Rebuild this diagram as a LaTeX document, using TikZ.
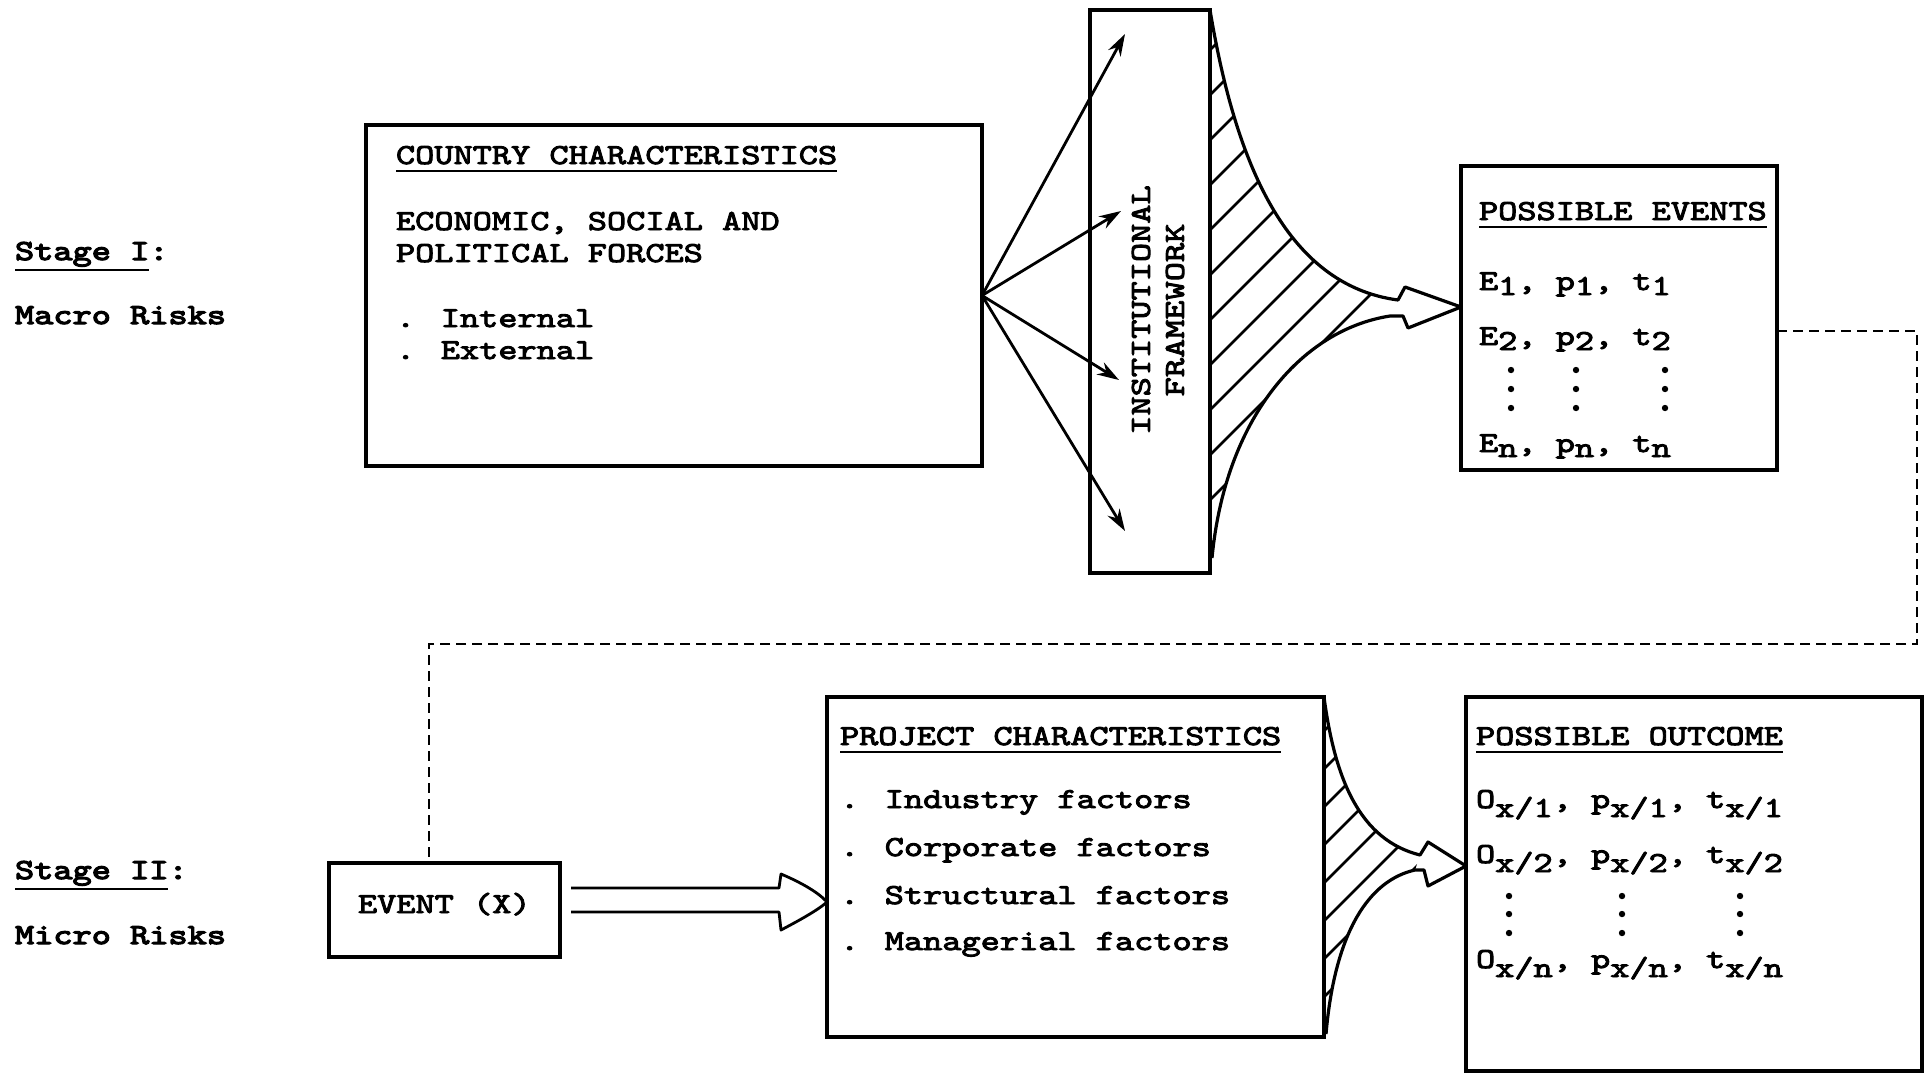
\documentclass[tikz,border=0pt]{standalone}
\usepackage{fontspec}
\newfontfamily\tw{lmmono10-regular.otf}[FakeStretch=1.26, FakeBold=3.2]
\newfontfamily\twb{lmmono10-regular.otf}[FakeStretch=1.26, FakeBold=4.2]
\usetikzlibrary{arrows.meta,calc}
\newcommand\ulx[2][8pt]{\setbox0\hbox{#2}\rlap{\rule[-#1]{\wd0}{2.5pt}}\box0}
\newcommand\lo[1]{\raisebox{-5pt}{#1}}
\newcommand\lox[1]{\raisebox{-9pt}{#1}}
\begin{document}
\begin{tikzpicture}[x=1pt,y=-1pt,
  txt/.style={anchor=base west, inner sep=0pt, outer sep=0pt, font=\tw\fontsize{29}{34}\selectfont},
  lbl/.style={txt, font=\twb\fontsize{29}{34}\selectfont},
  box/.style={draw, line width=3.2pt, anchor=north west, inner sep=0pt, outer sep=0pt},
  fan/.style={line width=2.8pt, -{Stealth[length=22pt,width=14pt]}},
  funnel/.style={line width=3.2pt, line join=round},
  hatch/.style={line width=2.6pt},
  link/.style={line width=2.2pt, dash pattern=on 10pt off 6pt},
  dotm/.style={fill=black}]
\useasboundingbox (0,0) rectangle (1924,1077);

% ---------- left labels
\node[lbl] (s1)  at (15,260) {\ulx[11pt]{Stage I}:};
\node[lbl] (s1b) at (15,324) {Macro Risks};
\node[lbl] (s2)  at (15,879) {\ulx[11pt]{Stage II}:};
\node[lbl] (s2b) at (15,944) {Micro Risks};

% ---------- boxes
\node[box, minimum width=616pt, minimum height=341pt] (country) at (366,125) {};
\node[box, minimum width=120pt, minimum height=563pt] (inst) at (1090,10) {};
\node[box, minimum width=316pt, minimum height=304pt] (events) at (1461,166) {};
\node[box, minimum width=231pt, minimum height=94pt] (eventx) at (329,863) {};
\node[box, minimum width=497pt, minimum height=340pt] (project) at (827,697) {};
\node[box, minimum width=456pt, minimum height=374pt] (outcome) at (1466,697) {};

% ---------- country box text
\node[txt] (c0) at (396,164) {\ulx{COUNTRY CHARACTERISTICS}};
\node[txt] (c1) at (396,230) {ECONOMIC, SOCIAL AND};
\node[txt] (c2) at (396,262) {POLITICAL FORCES};
\node[txt] (c3) at (396,327) {. Internal};
\node[txt] (c4) at (396,359) {. External};

% ---------- institutional framework
\node[font=\tw\fontsize{29}{34}\selectfont, rotate=90, align=center, inner sep=0pt] (insttext) at (1158,310) {INSTITUTIONAL\\FRAMEWORK};

% ---------- fan of arrows
\coordinate (a1) at (1125,34);
\coordinate (a2) at (1121,211);
\coordinate (a3) at (1119,380);
\coordinate (a4) at (1125,531);
\foreach \t in {a1,a2,a3,a4} \draw[fan] (country.east) -- (\t);

% ---------- upper hatched funnel
\begin{scope}
  \clip (1210,12) .. controls (1235,160) and (1285,285) .. (1398,300)
        -- (1390,316) .. controls (1300,330) and (1225,420) .. (1212,558) -- cycle;
  \foreach \y in {55,100,...,640} \draw[hatch] (1205,\y) -- ++(500,-500);
\end{scope}
\draw[funnel] (inst.north east) .. controls (1235,160) and (1285,285) .. (1398,300)
   -- (1405,287) -- (events.west |- 0,307) -- (1408,328) -- (1403,316) -- (1390,316)
   .. controls (1300,330) and (1225,420) .. (1212,558);

% ---------- possible events
\node[txt] (e0) at (1479,220) {\ulx{POSSIBLE EVENTS}};
\node[txt] (e1) at (1479,290) {E\lo{1}, p\lo{1}, t\lo{1}};
\node[txt] (e2) at (1479,345) {E\lo{2}, p\lo{2}, t\lo{2}};
\node[txt] (en) at (1479,452) {E\lo{n}, p\lo{n}, t\lo{n}};
\foreach \x in {1511,1576,1665} \foreach \y in {370,389,408} \fill[dotm] (\x,\y) circle (3.2pt);

% ---------- dashed link
\coordinate (d1) at (1917,331);
\coordinate (d2) at (1917,644);
\coordinate (d3) at (429,644);
\draw[link] (events.east |- d1) -- (d1) -- (d2) -- (d3) -- (d3 |- eventx.north);

% ---------- event (x)
\node[txt] (ex) at (358,913) {EVENT (X)};
\coordinate (ea) at (571,888);
\coordinate (eb) at (571,912);
\coordinate (et) at (project.west |- 0,902);
\draw[line width=2.8pt, line join=round] (ea) -- (779,888) -- (781,874)
   .. controls (800,882) and (818,892) .. (et)
   .. controls (818,910) and (800,920) .. (781,930) -- (779,912) -- (eb);

% ---------- project box text
\node[txt] (p0) at (840,745) {\ulx{PROJECT CHARACTERISTICS}};
\node[txt] (p1) at (840,808) {. Industry factors};
\node[txt] (p2) at (840,856) {. Corporate factors};
\node[txt] (p3) at (840,904) {. Structural factors};
\node[txt] (p4) at (840,950) {. Managerial factors};

% ---------- lower hatched funnel
\begin{scope}
  \clip (1324,703) .. controls (1335,780) and (1360,840) .. (1420,855)
        -- (1415,870) .. controls (1370,880) and (1335,930) .. (1326,1034) -- cycle;
  \foreach \y in {735,773,...,1100} \draw[hatch] (1320,\y) -- ++(300,-300);
\end{scope}
\draw[funnel] (project.north east) .. controls (1335,780) and (1360,840) .. (1420,855)
   -- (1428,842) -- (outcome.west |- 0,866) -- (1428,886) -- (1424,870) -- (1415,870)
   .. controls (1370,880) and (1335,930) .. (1326,1034);

% ---------- possible outcome
\node[txt] (o0) at (1476,745) {\ulx{POSSIBLE OUTCOME}};
\node[txt] (o1) at (1476,808) {O\lox{x/1}, p\lox{x/1}, t\lox{x/1}};
\node[txt] (o2) at (1476,863) {O\lox{x/2}, p\lox{x/2}, t\lox{x/2}};
\node[txt] (on) at (1476,968) {O\lox{x/n}, p\lox{x/n}, t\lox{x/n}};
\foreach \x in {1509,1622,1740} \foreach \y in {896,914,933} \fill[dotm] (\x,\y) circle (3.2pt);
\end{tikzpicture}
\end{document}
